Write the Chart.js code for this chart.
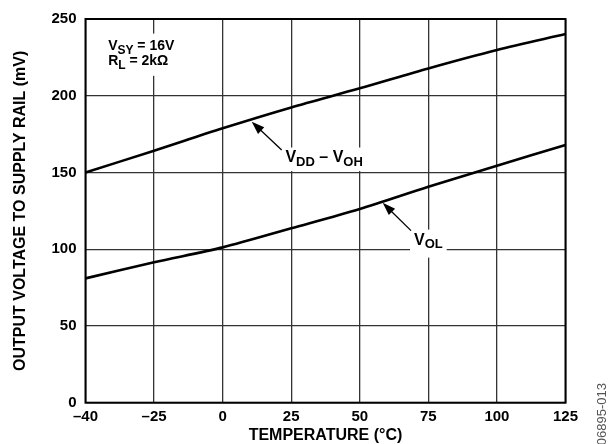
<!DOCTYPE html>
<html><head><meta charset="utf-8">
<script src="https://cdn.jsdelivr.net/npm/chart.js@4"></script>
<style>html,body{margin:0;padding:0;background:#fff}</style>
</head><body>
<canvas id="c" width="615" height="444" style="width:615px;height:444px;display:block"></canvas>
<script>
// ---- data ----
const tempLabels = ['–40', '–25', '0', '25', '50', '75', '100', '125'];
const vddMinusVoh = [150, 164.2, 178.8, 192.4, 204.8, 217.8, 229.8, 240.2];
const vol = [81, 91.5, 101.2, 113.6, 126.2, 140.7, 154.4, 167.9];
const yMin = 0, yMax = 250, yStep = 50;

const FONT = '"Liberation Sans", Arial, Helvetica, sans-serif';

function drawParts(ctx, parts, left, baseline, big, small, subDy) {
  let x = left;
  parts.forEach(p => {
    const sub = p[1];
    ctx.font = 'bold ' + (sub ? small : big) + 'px ' + FONT;
    ctx.fillText(p[0], x, baseline + (sub ? subDy : 0));
    x += ctx.measureText(p[0]).width;
  });
  return x - left;
}
function measureParts(ctx, parts, big, small) {
  let w = 0;
  parts.forEach(p => { ctx.font = 'bold ' + (p[1] ? small : big) + 'px ' + FONT; w += ctx.measureText(p[0]).width; });
  return w;
}
function arrow(ctx, x1, y1, x2, y2) {
  const a = Math.atan2(y2 - y1, x2 - x1), L = 13, W = 4.5;
  const bx = x2 - L * Math.cos(a), by = y2 - L * Math.sin(a);
  ctx.beginPath(); ctx.moveTo(x1, y1); ctx.lineTo(bx + 2 * Math.cos(a), by + 2 * Math.sin(a));
  ctx.lineWidth = 1.3; ctx.strokeStyle = '#000'; ctx.stroke();
  ctx.beginPath(); ctx.moveTo(x2, y2);
  ctx.lineTo(bx + W * Math.sin(a), by - W * Math.cos(a));
  ctx.lineTo(bx - W * Math.sin(a), by + W * Math.cos(a));
  ctx.closePath(); ctx.fillStyle = '#000'; ctx.fill();
}

// callouts in data units (x = category index, y = mV)
const callouts = [
  { parts: [['V', 0], ['DD', 1], [' – V', 0], ['OH', 1]], cx: 3.48, base: 156.8,
    tip: [2.424, 183.1], tail: [2.861, 164.6], pad: [3, 14.5, 3, 9] },
  { parts: [['V', 0], ['OL', 1]], cx: 5.0, base: 103.0,
    tip: [4.334, 130.3], tail: [4.747, 112.1], pad: [4, 15, 4, 13] }
];

const annot = {
  id: 'annot',
  beforeDatasetsDraw(chart) {
    const { ctx } = chart; const xs = chart.scales.x, ys = chart.scales.y;
    ctx.save();
    ctx.fillStyle = '#fff';
    callouts.forEach(c => {
      const w = measureParts(ctx, c.parts, 16, 13);
      const cx = xs.getPixelForValue(c.cx), by = ys.getPixelForValue(c.base);
      ctx.fillStyle = '#fff';
      ctx.fillRect(cx - w / 2 - c.pad[0], by - c.pad[1], w + c.pad[0] + c.pad[2], c.pad[1] + c.pad[3]);
    });
    // condition box
    const l = xs.getPixelForValue(0.24), t = ys.getPixelForValue(240.5);
    const r = xs.getPixelForValue(1.35), b = ys.getPixelForValue(213);
    ctx.fillRect(l, t, r - l, b - t);
    ctx.restore();
  },
  afterDatasetsDraw(chart) {
    const { ctx, chartArea: ca } = chart; const xs = chart.scales.x, ys = chart.scales.y;
    ctx.save();
    // frame
    ctx.strokeStyle = '#000'; ctx.lineWidth = 2;
    ctx.strokeRect(ca.left, ca.top, ca.right - ca.left, ca.bottom - ca.top);
    ctx.fillStyle = '#000'; ctx.textBaseline = 'alphabetic'; ctx.textAlign = 'left';
    callouts.forEach(c => {
      const w = measureParts(ctx, c.parts, 16, 13);
      const cx = xs.getPixelForValue(c.cx), by = ys.getPixelForValue(c.base);
      ctx.fillStyle = '#000';
      drawParts(ctx, c.parts, cx - w / 2, by, 16, 13, 3.5);
      arrow(ctx, xs.getPixelForValue(c.tail[0]), ys.getPixelForValue(c.tail[1]),
                 xs.getPixelForValue(c.tip[0]), ys.getPixelForValue(c.tip[1]));
    });
    // conditions
    const lx = xs.getPixelForValue(0.33);
    ctx.fillStyle = '#000';
    drawParts(ctx, [['V', 0], ['SY', 1], [' = 16V', 0]], lx, ys.getPixelForValue(229.5), 14, 12, 4);
    drawParts(ctx, [['R', 0], ['L', 1], [' = 2kΩ', 0]], lx, ys.getPixelForValue(220.3), 14, 12, 4);
    // figure code
    ctx.translate(602, 383); ctx.rotate(-Math.PI / 2);
    ctx.font = '13px "Liberation Sans Narrow", "Liberation Sans", Arial, sans-serif';
    ctx.fillStyle = '#555'; ctx.textAlign = 'right'; ctx.textBaseline = 'middle';
    ctx.fillText('06895-013', 0, 0);
    ctx.restore();
  }
};

new Chart(document.getElementById('c'), {
  type: 'line',
  data: {
    labels: tempLabels,
    datasets: [
      { label: 'VDD – VOH', data: vddMinusVoh, borderColor: '#000', borderWidth: 2.6, pointRadius: 0, tension: 0.3, fill: false },
      { label: 'VOL', data: vol, borderColor: '#000', borderWidth: 2.6, pointRadius: 0, tension: 0.3, fill: false }
    ]
  },
  options: {
    responsive: false,
    animation: false,
    devicePixelRatio: 1,
    layout: { padding: { top: 19, left: 0, right: 49.5, bottom: 0 } },
    plugins: { legend: { display: false }, tooltip: { enabled: false } },
    scales: {
      x: {
        type: 'category', offset: false,
        grid: { color: '#333', lineWidth: 1.3, drawTicks: false },
        border: { display: false },
        ticks: { color: '#000', font: { family: FONT, size: 15, weight: 'bold' }, padding: 5, maxRotation: 0, autoSkip: false },
        title: { display: true, text: 'TEMPERATURE (°C)', color: '#000', font: { family: FONT, size: 16, weight: 'bold', lineHeight: 1 }, padding: { top: 0, bottom: 0 } },
        afterFit(s) { s.height = 41.3; }
      },
      y: {
        min: yMin, max: yMax,
        grid: { color: '#333', lineWidth: 1.3, drawTicks: false },
        border: { display: false },
        ticks: { stepSize: yStep, color: '#000', font: { family: FONT, size: 15, weight: 'bold' }, padding: 9 },
        title: { display: true, text: 'OUTPUT VOLTAGE TO SUPPLY RAIL (mV)', color: '#000', font: { family: FONT, size: 16, weight: 'bold', lineHeight: 1.2 }, padding: { top: 11, bottom: 0 } },
        afterFit(s) { s.width = 85.5; }
      }
    }
  },
  plugins: [annot]
});
</script>
</body></html>
